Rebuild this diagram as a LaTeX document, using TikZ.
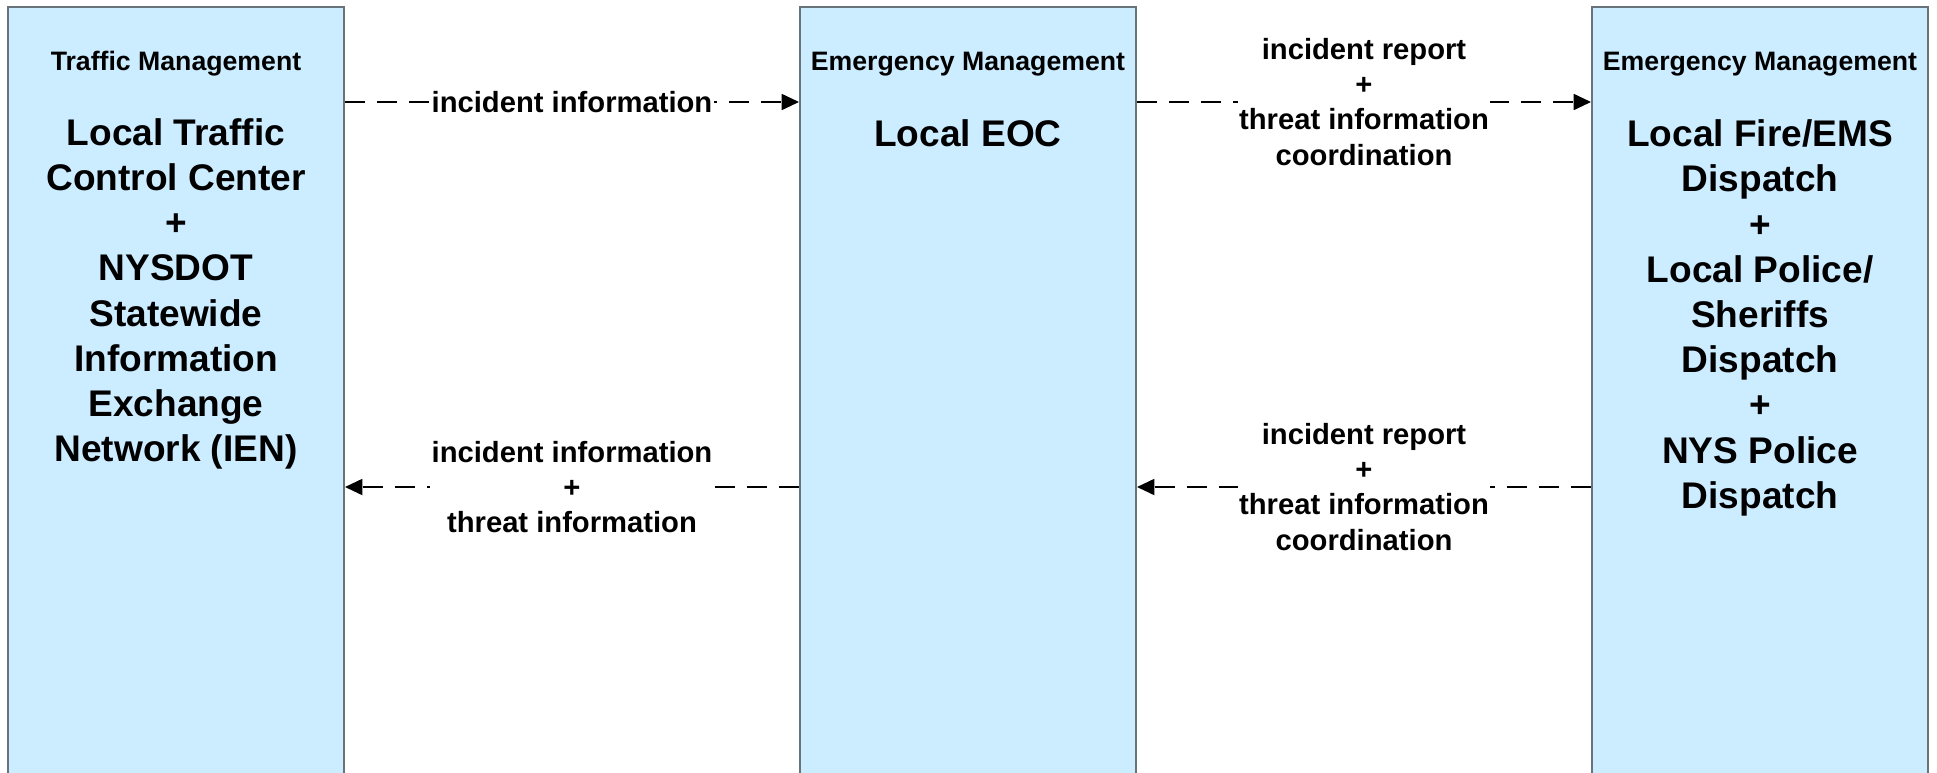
\documentclass[tikz,border=0pt]{standalone}
\usepackage{fontspec}
\setmainfont{Liberation Sans}
\usetikzlibrary{arrows.meta}
\begin{document}
\begin{tikzpicture}[x=0.75pt,y=0.75pt,yscale=-1,xscale=1,
    sysbox/.style={draw={rgb, 255:red, 105; green, 115; blue, 122 }, line width=1.5pt, fill={rgb, 255:red, 204; green, 236; blue, 255 }, minimum width=252pt, minimum height=595pt, inner sep=0pt},
    systitle/.style={font=\fontsize{20}{24}\selectfont\bfseries, inner sep=0.75pt},
    sysname/.style={font=\fontsize{27.8}{33.9}\selectfont\bfseries, align=center, inner sep=0.75pt},
    flow/.style={line width=1.35pt, dash pattern=on 15pt off 9pt, -{Triangle[length=13pt,width=12pt]}},
    flowlabel/.style={font=\fontsize{21.9}{26.3}\selectfont\bfseries, align=center, fill=white, inner sep=1pt}]
        \useasboundingbox (0,0) rectangle (1937,772);
        \clip (0,0) rectangle (1937,772);
        % Box
        \node (tmc) [sysbox] at (176,403.5) {};
        \node (eoc) [sysbox] at (968,403.5) {};
        \node (ems) [sysbox] at (1760,403.5) {};
        % Text Node
        \node (tmctitle) [systitle] at (176,64) {Traffic Management};
        \node (eoctitle) [systitle] at (968,64) {Emergency Management};
        \node (emstitle) [systitle] at (1760,64) {Emergency Management};
        % Text Node
        \node (tmcname) [sysname] at (176,294) {Local Traffic\\Control Center\\+\\NYSDOT\\Statewide\\Information\\Exchange\\Network (IEN)};
        \node (eocname) [sysname] at (968,133) {Local EOC};
        \node (emsname) [sysname] at (1760,318) {Local Fire/EMS\\Dispatch\\+\\Local Police/\\Sheriffs\\Dispatch\\+\\NYS Police\\Dispatch};
        % Rows
        \coordinate (toprow) at (0,102);
        \coordinate (botrow) at (0,487);
        % Connection
        \draw [flow] (tmc.east |- toprow) -- node [flowlabel] (toplbl) {incident information} (eoc.west |- toprow);
        % Connection
        \draw [flow] (eoc.east |- toprow) -- node [flowlabel] (toprlbl) {incident report\\+\\threat information\\coordination} (ems.west |- toprow);
        % Connection
        \draw [flow] (eoc.west |- botrow) -- node [flowlabel] (botlbl) {incident information\\+\\threat information} (tmc.east |- botrow);
        % Connection
        \draw [flow] (ems.west |- botrow) -- node [flowlabel] (botrlbl) {incident report\\+\\threat information\\coordination} (eoc.east |- botrow);
    \end{tikzpicture}
\end{document}
